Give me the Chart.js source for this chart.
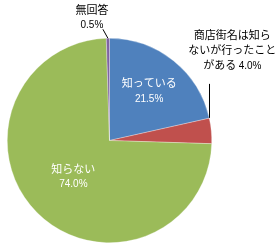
<!DOCTYPE html>
<html>
<head>
<meta charset="utf-8">
<script src="https://cdn.jsdelivr.net/npm/chart.js@4"></script>
<style>
  html, body { margin: 0; padding: 0; background: #fff; }
  #wrap { width: 279px; height: 248px; }
</style>
</head>
<body>
<div id="wrap"><canvas id="pieChart" width="279" height="248"></canvas></div>
<script>
// slices in drawing order, clockwise from 12 o'clock
const categories = ['知っている', '商店街名は知らないが行ったことがある', '知らない', '無回答'];
const values = [21.5, 4.0, 74.0, 0.5];
const sliceColors = ['#4F81BD', '#C0504D', '#9BBB59', '#8064A2'];
// how each label is written on the picture (line breaks as in the original)
const labelLines = [
  ['知っている'],
  ['商店街名は知ら', 'ないが行ったこと', 'がある'],
  ['知らない'],
  ['無回答']
];

const jpFont = '11px "Noto Sans CJK JP", sans-serif';
const numFont = '10px "Liberation Sans", Arial, sans-serif';

function pct(v) {
  return v.toFixed(1) + '%';
}

const labelPlugin = {
  id: 'sliceLabels',
  afterDatasetsDraw(chart) {
    const ctx = chart.ctx;
    const arcs = chart.getDatasetMeta(0).data;
    ctx.save();
    ctx.textBaseline = 'middle';
    ctx.textAlign = 'center';

    arcs.forEach((arc, i) => {
      const p = arc.getProps(['x', 'y', 'startAngle', 'endAngle', 'outerRadius'], true);
      const mid = (p.startAngle + p.endAngle) / 2;
      const edgeX = p.x + Math.cos(mid) * p.outerRadius;
      const edgeY = p.y + Math.sin(mid) * p.outerRadius;

      if (i === 0 || i === 2) {
        // labels inside the slice
        const f = i === 0 ? 0.62 : 0.5;
        const cx = p.x + Math.cos(mid) * p.outerRadius * f;
        const cy = p.y + Math.sin(mid) * p.outerRadius * f;
        ctx.fillStyle = '#fff';
        ctx.font = jpFont;
        ctx.fillText(labelLines[i][0], cx, cy - 8);
        ctx.font = numFont;
        ctx.fillText(pct(values[i]), cx, cy + 8);
      } else if (i === 3) {
        // 無回答: above the pie with a short leader
        const tx = edgeX - 16;
        ctx.fillStyle = '#000';
        ctx.font = jpFont;
        ctx.fillText(labelLines[i][0], tx, edgeY - 28);
        ctx.font = numFont;
        ctx.fillText(pct(values[i]), tx, edgeY - 13);
        ctx.strokeStyle = '#000';
        ctx.lineWidth = 1;
        ctx.beginPath();
        ctx.moveTo(edgeX - 5, edgeY - 9);
        ctx.lineTo(edgeX, edgeY);
        ctx.stroke();
      } else {
        // 商店街名...: three lines to the upper right
        const tx = edgeX + 21;
        const top = edgeY - 96;
        ctx.fillStyle = '#000';
        ctx.font = jpFont;
        ctx.fillText(labelLines[i][0], tx, top);
        ctx.fillText(labelLines[i][1], tx, top + 15);
        // last line mixes the jp text and the number
        const a = labelLines[i][2] + ' ';
        const b = pct(values[i]);
        ctx.font = jpFont;
        const wa = ctx.measureText(a).width;
        ctx.font = numFont;
        const wb = ctx.measureText(b).width;
        let x0 = tx - (wa + wb) / 2;
        ctx.textAlign = 'left';
        ctx.font = jpFont;
        ctx.fillText(a, x0, top + 30);
        ctx.font = numFont;
        ctx.fillText(b, x0 + wa, top + 31);
        ctx.textAlign = 'center';
        ctx.strokeStyle = '#000';
        ctx.lineWidth = 1;
        ctx.beginPath();
        ctx.moveTo(Math.round(edgeX) - 1.5, top + 49);
        ctx.lineTo(Math.round(edgeX) - 1.5, edgeY - 13);
        ctx.stroke();
      }
    });
    ctx.restore();
  }
};

new Chart(document.getElementById('pieChart').getContext('2d'), {
  type: 'pie',
  data: {
    labels: categories,
    datasets: [{
      data: values,
      backgroundColor: sliceColors,
      borderColor: 'rgba(255,255,255,0.6)',
      borderWidth: 0.5
    }]
  },
  options: {
    responsive: false,
    animation: false,
    layout: { padding: { top: 38, bottom: 5, left: 7, right: 67 } },
    plugins: {
      legend: { display: false },
      tooltip: { enabled: false }
    }
  },
  plugins: [labelPlugin]
});
</script>
</body>
</html>
